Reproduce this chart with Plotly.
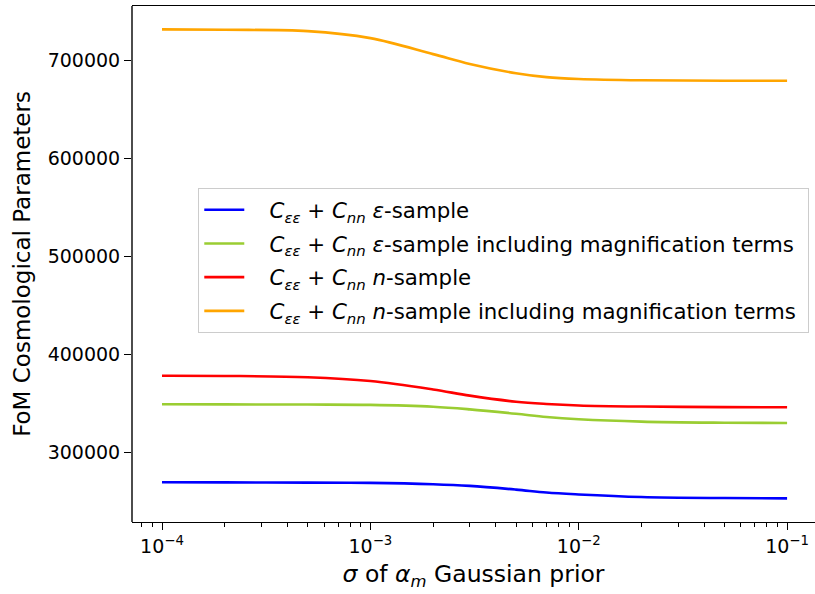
import plotly.graph_objects as go

sigma = [1e-4, 2e-4, 5e-4, 1e-3, 2e-3, 3e-3, 5e-3, 7e-3, 1e-2, 2e-2, 5e-2, 1e-1]

fom_eps = [269100, 269000, 268800, 268500, 267100, 265400, 261600, 258600, 256700, 254100, 253000, 252700]
fom_eps_mag = [348700, 348600, 348400, 348100, 346200, 343500, 339000, 335700, 333400, 331000, 329900, 329600]
fom_n = [377800, 377600, 376300, 372400, 363800, 357500, 351300, 349000, 347500, 346400, 345800, 345600]
fom_n_mag = [731300, 730800, 729500, 722300, 706000, 696000, 686500, 682500, 680600, 679300, 678900, 678800]

C = "<i>C</i><sub><i>εε</i></sub>&nbsp;+&nbsp;<i>C</i><sub><i>nn</i></sub>"
pad = "&nbsp;&nbsp;&nbsp;"
tail = "&nbsp;"
names = [
    pad + C + " <i>ε</i>-sample",
    pad + C + " <i>ε</i>-sample including magnification terms" + tail,
    pad + C + " <i>n</i>-sample",
    pad + C + " <i>n</i>-sample including magnification terms" + tail,
]
colors = ["#0000ff", "#9acd32", "#ff0000", "#ffa500"]
series = [fom_eps, fom_eps_mag, fom_n, fom_n_mag]

xtick_vals = [1e-4, 1e-3, 1e-2, 1e-1]
xtick_text = ["10<sup>−4</sup>", "10<sup>−3</sup>", "10<sup>−2</sup>", "10<sup>−1</sup>"]
xminor_vals = [8e-5, 9e-5] + [m * d for d in (1e-4, 1e-3, 1e-2) for m in range(2, 10)]
ytick_vals = [300000, 400000, 500000, 600000, 700000]

fig = go.Figure()
for i, (nm, col, ys) in enumerate(zip(names, colors, series)):
    fig.add_trace(go.Scatter(x=sigma, y=ys, mode="lines", name=nm, legendgroup=f"g{i}",
                             line=dict(color=col, width=2.6, shape="spline", smoothing=1.0)))

# left spine drawn as a paper-referenced line (right side is cropped in the reference)
fig.add_shape(type="line", xref="paper", yref="paper", x0=0, x1=0, y0=0, y1=1,
              line=dict(color="black", width=1.4))

font_family = "DejaVu Sans"
fig.update_layout(
    width=815, height=594,
    margin=dict(l=132, r=0, t=6, b=72),
    paper_bgcolor="white", plot_bgcolor="white",
    font=dict(family=font_family, size=19, color="black"),
    showlegend=True,
    legend=dict(x=0.0966, y=0.647, xanchor="left", yanchor="top",
                bordercolor="#cccccc", borderwidth=1.3, bgcolor="rgba(255,255,255,0.8)",
                font=dict(size=21.3), tracegroupgap=3, itemwidth=40),
)
fig.update_xaxes(
    type="log", range=[-4.144, -0.866],
    tickvals=xtick_vals, ticktext=xtick_text,
    ticks="outside", ticklen=7, tickwidth=1.3, tickcolor="black",
    minor=dict(tickvals=xminor_vals, ticks="outside", ticklen=4, tickwidth=1, tickcolor="black", showgrid=False),
    showline=True, linecolor="black", linewidth=1.4, mirror=True,
    showgrid=False, zeroline=False,
    title=dict(text="<i>σ</i> of <i>α</i><sub><i>m</i></sub> Gaussian prior", font=dict(size=23.5), standoff=9),
)
fig.update_yaxes(
    range=[228571, 755102],
    tickvals=ytick_vals, tickformat="d",
    ticks="outside", ticklen=7, tickwidth=1.3, tickcolor="black",
    showline=False, mirror=False,
    showgrid=False, zeroline=False,
    title=dict(text="FoM Cosmological Parameters", font=dict(size=23), standoff=10),
)

fig.write_html("out.html")
